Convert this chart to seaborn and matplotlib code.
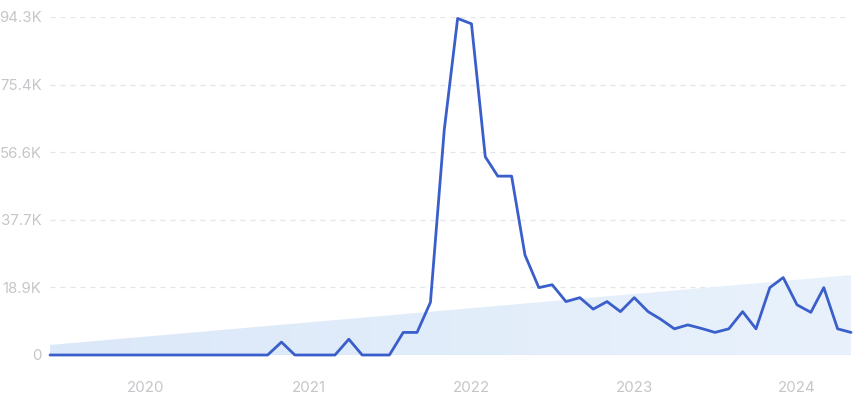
import numpy as np
import pandas as pd
import matplotlib
matplotlib.use("Agg")
import matplotlib.pyplot as plt
import seaborn as sns
from matplotlib.colors import LinearSegmentedColormap

# ---- data ----
months = pd.date_range("2019-06-01", "2024-05-01", freq="MS")
values = [0, 0, 0, 0, 0, 0, 0, 0, 0, 0, 0, 0, 0, 0, 0, 0, 0, 3600,
          0, 0, 0, 0, 4400, 0, 0, 0, 6300, 6300, 14700, 62800, 93900, 92400,
          55300, 49900, 49900, 27900, 18800, 19600, 14900, 16000, 12800, 14900,
          12100, 16000, 12100, 10000, 7300, 8400, 7400, 6300, 7300, 12100,
          7300, 18800, 21600, 14000, 11900, 18800, 7300, 6300]
trend_ends = [2800, 22300]
ytick_vals = [0, 18860, 37720, 56580, 75440, 94300]
ytick_labels = ["0", "18.9K", "37.7K", "56.6K", "75.4K", "94.3K"]
year_ticks = ["2020", "2021", "2022", "2023", "2024"]

df = pd.DataFrame({"month": months, "value": values})

sns.set_theme(style="white")
plt.rcParams["font.family"] = ["Inter", "DejaVu Sans"]

W, H = 855, 397
fig = plt.figure(figsize=(W / 100, H / 100), dpi=100)
ax = fig.add_axes([50 / W, (H - 355) / H, (851 - 50) / W, (355 - 17) / H])

x0, x1 = months[0], months[-1]
ax.set_xlim(x0, x1)
ax.set_ylim(0, 94300)

# trend area with gradient
xnum = matplotlib.dates.date2num([x0, x1])
poly_x = [xnum[0], xnum[1], xnum[1], xnum[0]]
poly_y = [trend_ends[0], trend_ends[1], 0, 0]
poly = ax.fill(poly_x, poly_y, facecolor="none", edgecolor="none")[0]
cmap = LinearSegmentedColormap.from_list("g", ["#dbe8f9", "#e9f2fc"])
grad = np.linspace(0, 1, 256).reshape(1, -1)
im = ax.imshow(grad, cmap=cmap, aspect="auto",
               extent=[xnum[0], xnum[1], 0, max(trend_ends)], zorder=1)
im.set_clip_path(poly)
ax.axhline(0, color="#d5e2f3", lw=1, zorder=1)

# grid
for v in ytick_vals[1:]:
    ax.axhline(v, color="#e2e6ec", lw=0.9, ls=(0, (4, 4)), zorder=0)

sns.lineplot(data=df, x="month", y="value", ax=ax, color="#3a5fcb",
             linewidth=2.0, zorder=3, clip_on=False)

ax.set_yticks(ytick_vals)
ax.set_yticklabels(ytick_labels)
ax.set_xticks([pd.Timestamp(f"{y}-01-01") for y in year_ticks])
ax.set_xticklabels(year_ticks)
ax.tick_params(axis="y", colors="#c6c6ca", labelsize=10.8, length=0, pad=6)
ax.tick_params(axis="x", colors="#c6c6ca", labelsize=10.8, length=0, pad=19)
ax.set_xlabel("")
ax.set_ylabel("")
for s in ax.spines.values():
    s.set_visible(False)

fig.savefig("out.png", dpi=100)
